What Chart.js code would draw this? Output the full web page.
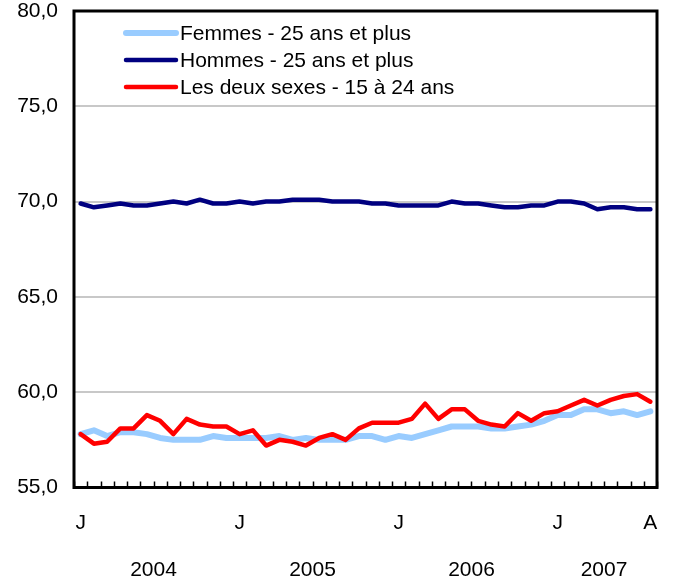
<!DOCTYPE html>
<html>
<head>
<meta charset="utf-8">
<script src="https://cdn.jsdelivr.net/npm/chart.js@4"></script>
<style>
  html, body { margin: 0; padding: 0; background: #fff; }
  #wrap { width: 673px; height: 579px; }
</style>
</head>
<body>
<div id="wrap"><canvas id="chart" width="673" height="579"></canvas></div>
<script>
const years = ["2004", "2005", "2006", "2007"];
const monthsInYear = [12, 12, 12, 8];
const monthLetters = ["J", "F", "M", "A", "M", "J", "J", "A", "S", "O", "N", "D"];
const yTicks = [55, 60, 65, 70, 75, 80];

const femmes = [57.8, 58.0, 57.7, 57.9, 57.9, 57.8, 57.6, 57.5, 57.5, 57.5, 57.7, 57.6,
  57.6, 57.6, 57.6, 57.7, 57.5, 57.6, 57.5, 57.5, 57.5, 57.7, 57.7, 57.5,
  57.7, 57.6, 57.8, 58.0, 58.2, 58.2, 58.2, 58.1, 58.1, 58.2, 58.3, 58.5,
  58.8, 58.8, 59.1, 59.1, 58.9, 59.0, 58.8, 59.0];
const hommes = [69.9, 69.7, 69.8, 69.9, 69.8, 69.8, 69.9, 70.0, 69.9, 70.1, 69.9, 69.9,
  70.0, 69.9, 70.0, 70.0, 70.1, 70.1, 70.1, 70.0, 70.0, 70.0, 69.9, 69.9,
  69.8, 69.8, 69.8, 69.8, 70.0, 69.9, 69.9, 69.8, 69.7, 69.7, 69.8, 69.8,
  70.0, 70.0, 69.9, 69.6, 69.7, 69.7, 69.6, 69.6];
const deuxSexes = [57.8, 57.3, 57.4, 58.1, 58.1, 58.8, 58.5, 57.8, 58.6, 58.3, 58.2, 58.2,
  57.8, 58.0, 57.2, 57.5, 57.4, 57.2, 57.6, 57.8, 57.5, 58.1, 58.4, 58.4,
  58.4, 58.6, 59.4, 58.6, 59.1, 59.1, 58.5, 58.3, 58.2, 58.9, 58.5, 58.9,
  59.0, 59.3, 59.6, 59.3, 59.6, 59.8, 59.9, 59.5];

// one category per month, Jan 2004 to Aug 2007
const categories = [];
const yearCenters = [];
years.forEach((y, k) => {
  const start = categories.length;
  for (let m = 0; m < monthsInYear[k]; m++) categories.push(monthLetters[m] + " " + y);
  yearCenters.push((start + categories.length - 1) / 2);
});

const FONT = "'Liberation Sans', Arial, sans-serif";
Chart.defaults.font.family = FONT;
Chart.defaults.font.size = 21;
Chart.defaults.color = "#000";

const noPad = (axis) => {
  axis.paddingTop = 0;
  axis.paddingBottom = 0;
  axis.paddingLeft = 0;
  axis.paddingRight = 0;
};

// black frame round the plot, with small month ticks inside the bottom edge
const framePlugin = {
  id: "frame",
  afterDraw(chart) {
    const { ctx, chartArea: a } = chart;
    const x = chart.scales.x;
    ctx.save();
    ctx.strokeStyle = "#000";
    ctx.lineWidth = 1.5;
    for (let i = 0; i <= categories.length; i++) {
      const px = Math.round(x.getPixelForValue(i - 0.5)) + 0.5;
      ctx.beginPath();
      ctx.moveTo(px, a.bottom);
      ctx.lineTo(px, a.bottom - 6);
      ctx.stroke();
    }
    ctx.lineWidth = 3;
    ctx.strokeRect(a.left, a.top, a.right - a.left, a.bottom - a.top);
    ctx.restore();
  }
};

// legend drawn inside the plot, top left
const legendPlugin = {
  id: "insideLegend",
  afterDraw(chart) {
    const { ctx, chartArea: a } = chart;
    ctx.save();
    ctx.font = "21px " + FONT;
    ctx.textBaseline = "middle";
    ctx.lineCap = "round";
    chart.data.datasets.forEach((ds, i) => {
      const y = a.top + 22 + i * 27;
      ctx.strokeStyle = ds.borderColor;
      ctx.lineWidth = ds.legendWidth;
      ctx.beginPath();
      ctx.moveTo(a.left + 52, y);
      ctx.lineTo(a.left + 102, y);
      ctx.stroke();
      ctx.fillStyle = "#000";
      ctx.fillText(ds.label, a.left + 106, y + 1);
    });
    ctx.restore();
  }
};

new Chart(document.getElementById("chart"), {
  type: "line",
  data: {
    labels: categories,
    datasets: [
      { label: "Femmes - 25 ans et plus", data: femmes, borderColor: "#99ccff", borderWidth: 6, legendWidth: 6, order: 2 },
      { label: "Hommes - 25 ans et plus", data: hommes, borderColor: "#000080", borderWidth: 4.5, legendWidth: 4.5, order: 1 },
      { label: "Les deux sexes - 15 à 24 ans", data: deuxSexes, borderColor: "#ff0000", borderWidth: 4.5, legendWidth: 4.5, order: 0 }
    ]
  },
  plugins: [framePlugin, legendPlugin],
  options: {
    responsive: false,
    animation: false,
    layout: { padding: { top: 11, right: 16, left: 0, bottom: 0 } },
    elements: {
      point: { radius: 0 },
      line: { tension: 0, borderJoinStyle: "round", borderCapStyle: "round", fill: false }
    },
    plugins: {
      legend: { display: false },
      tooltip: { enabled: false }
    },
    scales: {
      y: {
        min: 55,
        max: 80,
        afterBuildTicks: (axis) => { axis.ticks = yTicks.map((v) => ({ value: v })); },
        afterFit: (axis) => { axis.width = 74; noPad(axis); },
        border: { display: false },
        grid: { color: "#c8c8c8", lineWidth: 2, drawTicks: false },
        ticks: {
          padding: 16,
          callback: (v) => v.toFixed(1).replace(".", ",")
        }
      },
      x: {
        type: "category",
        position: "bottom",
        offset: true,
        afterFit: (axis) => { axis.height = 50; noPad(axis); },
        border: { display: false },
        grid: { display: false, offset: true },
        ticks: {
          autoSkip: false,
          maxRotation: 0,
          padding: 15,
          callback: (v, i) => (i % 12 === 0 || i === categories.length - 1) ? categories[i].split(" ")[0] : ""
        }
      },
      yearAxis: {
        type: "linear",
        position: "bottom",
        min: -0.5,
        max: categories.length - 0.5,
        afterBuildTicks: (axis) => { axis.ticks = yearCenters.map((v) => ({ value: v })); },
        afterFit: (axis) => { axis.height = 41.5; noPad(axis); },
        border: { display: false },
        grid: { display: false },
        ticks: {
          autoSkip: false,
          maxRotation: 0,
          padding: 12,
          callback: (v, i) => years[i]
        }
      }
    }
  }
});
</script>
</body>
</html>
